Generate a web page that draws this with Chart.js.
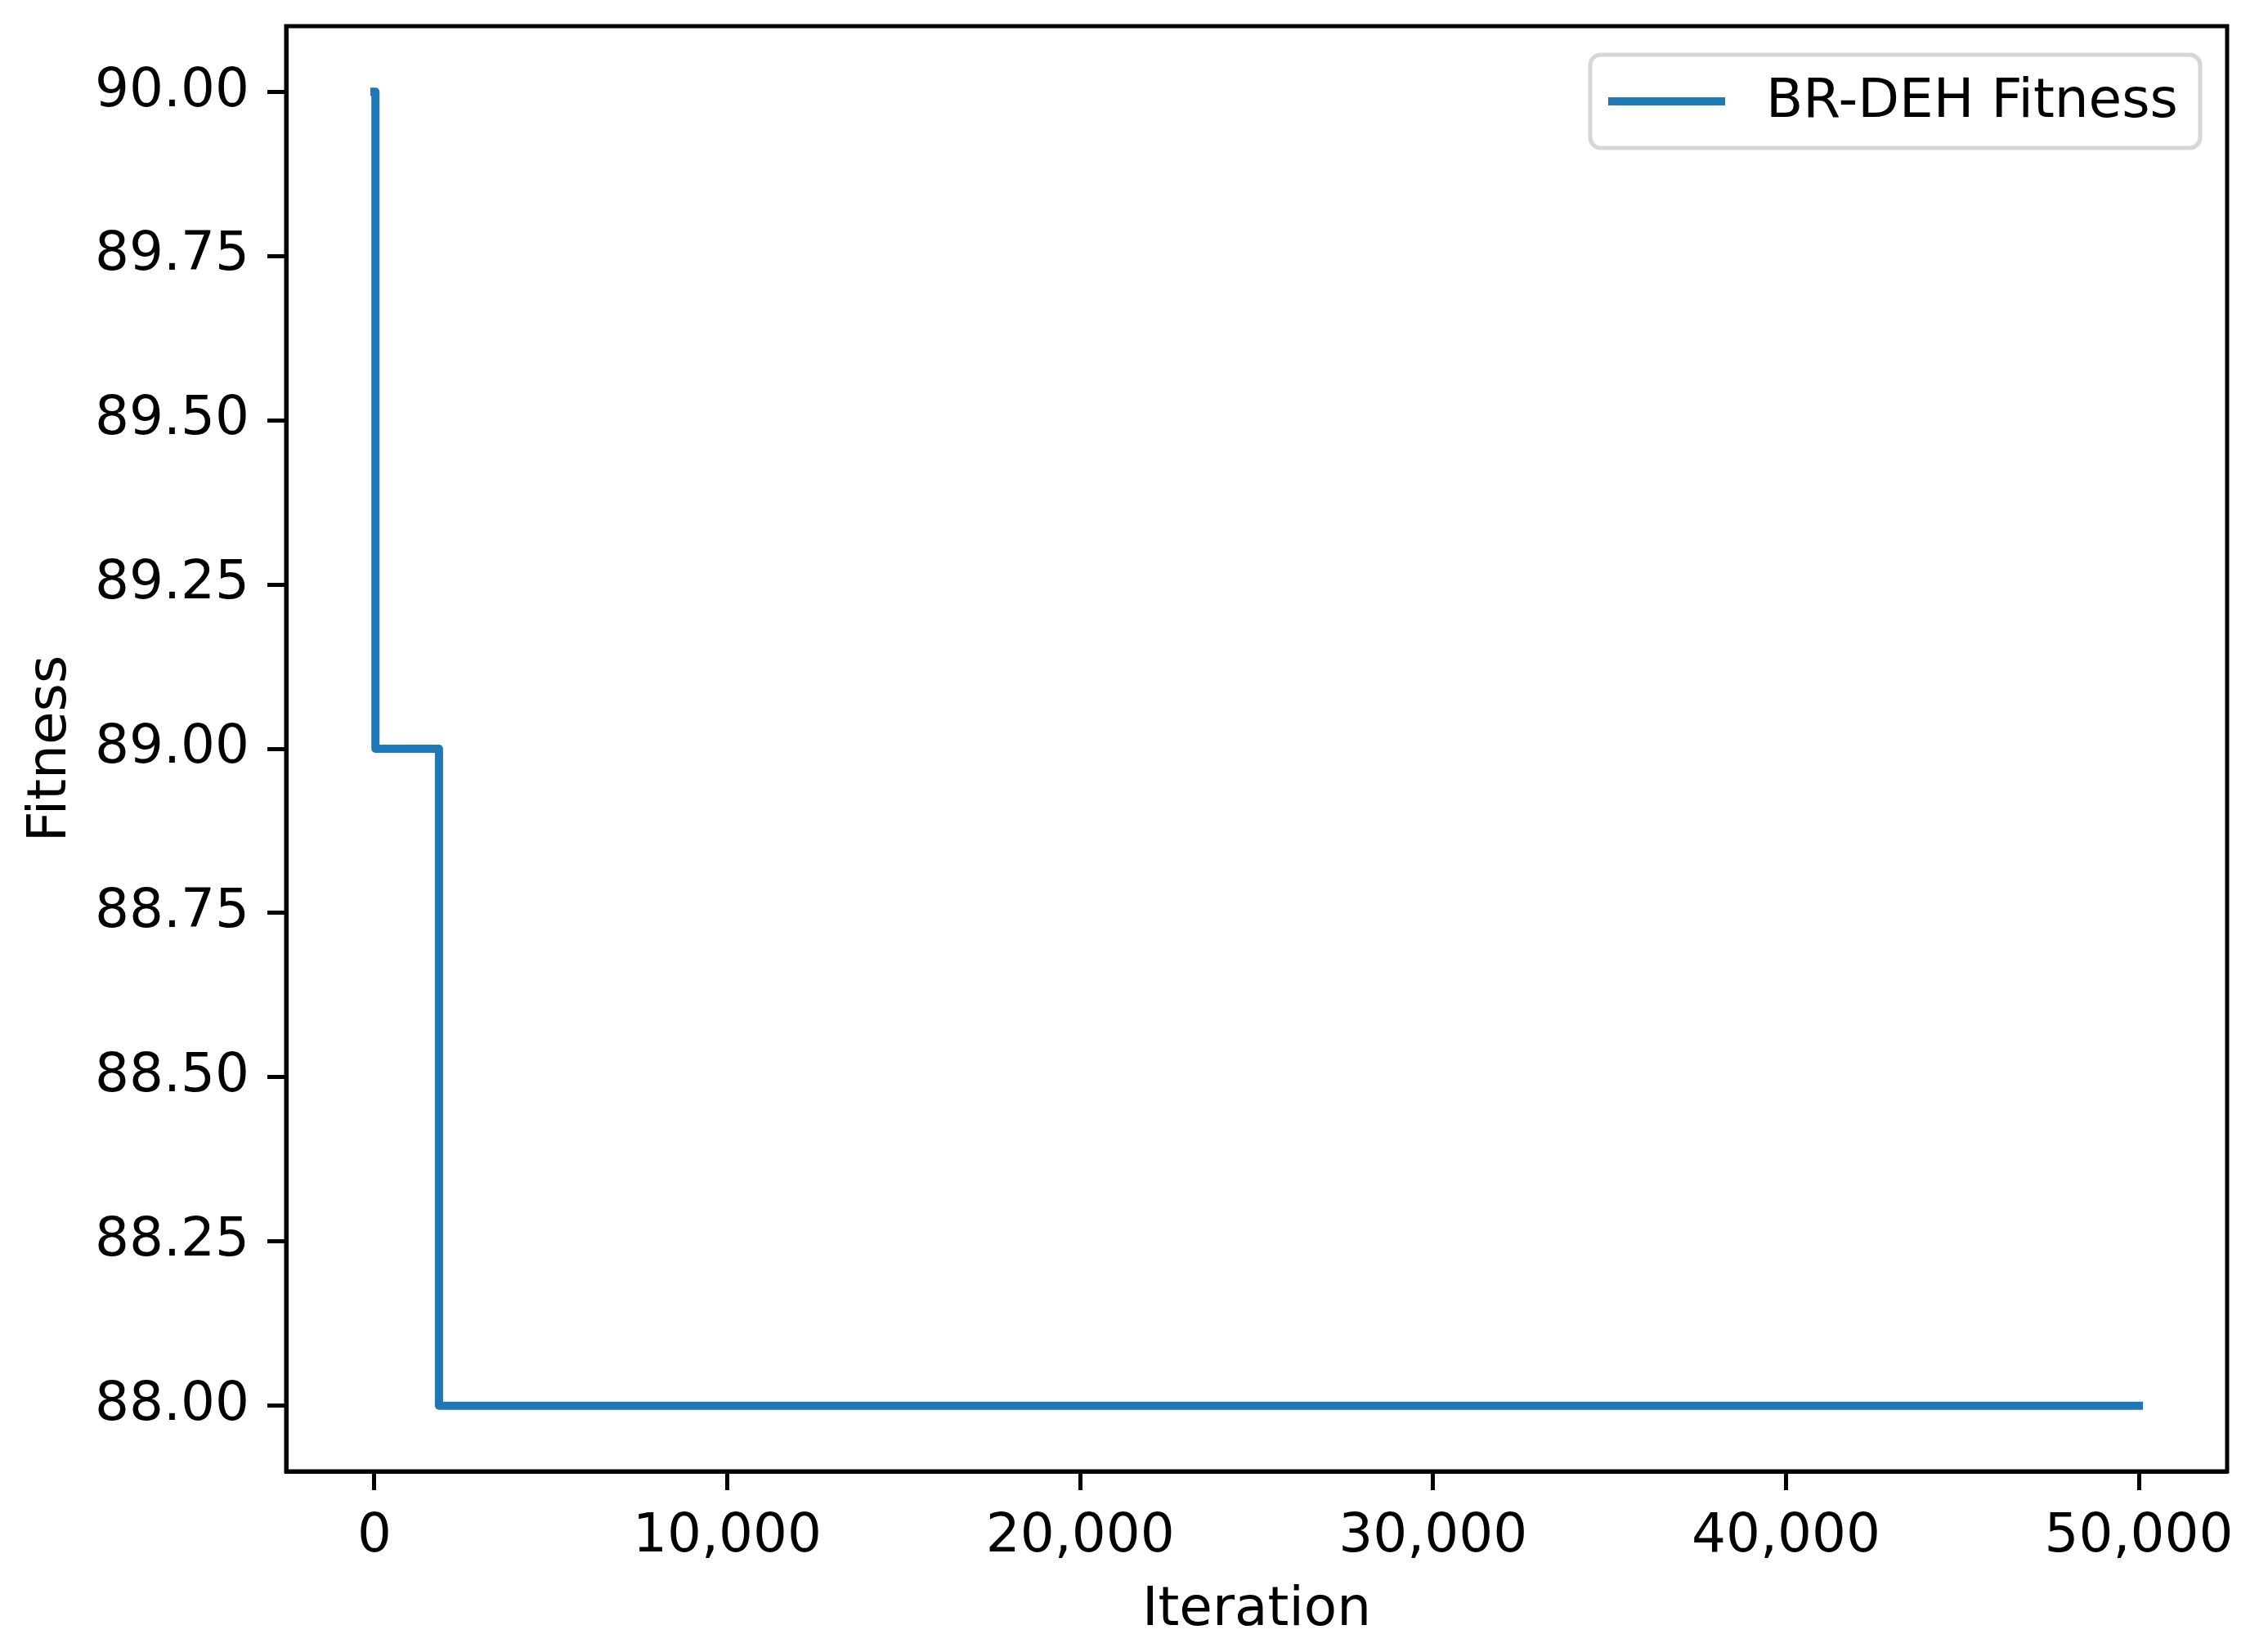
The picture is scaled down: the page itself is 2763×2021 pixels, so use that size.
<!DOCTYPE html>
<html>
<head>
<meta charset="utf-8">
<script src="https://cdn.jsdelivr.net/npm/chart.js@4.4.1/dist/chart.umd.min.js"></script>
<style>
  html, body { margin: 0; padding: 0; background: #ffffff; }
  #wrap { width: 2763px; height: 2021px; }
</style>
</head>
<body>
<div id="wrap"><canvas id="fitnessChart" width="2763" height="2021"></canvas></div>
<script>
// change points of the best fitness curve
const iterations = [0, 30, 1830, 50000];
const fitness = [90, 89, 88, 88];
const xTicks = [0, 10000, 20000, 30000, 40000, 50000];
const yTicks = [88.00, 88.25, 88.50, 88.75, 89.00, 89.25, 89.50, 89.75, 90.00];
const seriesLabel = 'BR-DEH Fitness';

const FONT = 'DejaVu Sans';
const FS = 66;

// box around the plot + matplotlib style legend inside the axes
const framePlugin = {
    id: 'frame',
    afterDraw(chart) {
        const ctx = chart.ctx;
        const a = chart.chartArea;
        ctx.save();
        ctx.strokeStyle = '#000000';
        ctx.lineWidth = 5;
        ctx.strokeRect(a.left, a.top, a.right - a.left, a.bottom - a.top);

        // legend
        const ds = chart.data.datasets[0];
        const bx = 1945, by = 67, bw = 746, bh = 114, r = 13;
        ctx.globalAlpha = 0.8;
        ctx.fillStyle = '#ffffff';
        ctx.strokeStyle = '#cccccc';
        ctx.lineWidth = 5;
        ctx.beginPath();
        ctx.roundRect(bx, by, bw, bh, r);
        ctx.fill();
        ctx.stroke();
        ctx.globalAlpha = 1;
        ctx.strokeStyle = ds.borderColor;
        ctx.lineWidth = ds.borderWidth;
        ctx.lineCap = 'square';
        ctx.beginPath();
        ctx.moveTo(1972, by + bh / 2);
        ctx.lineTo(2105, by + bh / 2);
        ctx.stroke();
        ctx.fillStyle = '#000000';
        ctx.font = FS + 'px "' + FONT + '"';
        ctx.textBaseline = 'middle';
        ctx.textAlign = 'left';
        ctx.fillText(ds.label, 2160, by + bh / 2 + 2);
        ctx.restore();
    }
};

const ctx = document.getElementById('fitnessChart').getContext('2d');

const data = {
    datasets: [{
        label: seriesLabel,
        data: iterations.map((x, i) => ({ x: x, y: fitness[i] })),
        borderColor: '#1f77b4',
        backgroundColor: '#1f77b4',
        borderWidth: 10,
        borderCapStyle: 'square',
        borderJoinStyle: 'round',
        stepped: 'before',
        pointRadius: 0,
        fill: false
    }]
};

const myChart = new Chart(ctx, {
    type: 'line',
    data: data,
    plugins: [framePlugin],
    options: {
        responsive: false,
        animation: false,
        devicePixelRatio: 1,
        layout: {
            padding: { left: 0, top: 32, right: 39, bottom: 0 }
        },
        plugins: {
            legend: { display: false },
            tooltip: { enabled: false },
            title: { display: false }
        },
        scales: {
            x: {
                type: 'linear',
                min: -2500,
                max: 52500,
                afterBuildTicks: (scale) => { scale.ticks = xTicks.map(v => ({ value: v })); },
                afterFit: (scale) => {
                    scale.height = 221;
                    scale.paddingLeft = 0;
                    scale.paddingRight = 0;
                },
                ticks: {
                    color: '#000000',
                    font: { family: FONT, size: FS },
                    padding: 18,
                    maxRotation: 0,
                    autoSkip: false,
                    callback: (v) => v.toLocaleString('en-US')
                },
                grid: {
                    drawOnChartArea: false,
                    drawTicks: true,
                    tickLength: 23,
                    tickWidth: 5,
                    tickColor: '#000000'
                },
                border: { display: true, color: '#000000', width: 5 },
                title: {
                    display: true,
                    text: 'Iteration',
                    color: '#000000',
                    font: { family: FONT, size: FS },
                    padding: { top: 0, bottom: 11 }
                }
            },
            y: {
                type: 'linear',
                min: 87.9,
                max: 90.1,
                afterBuildTicks: (scale) => { scale.ticks = yTicks.map(v => ({ value: v })); },
                afterFit: (scale) => {
                    scale.width = 350;
                    scale.paddingTop = 0;
                    scale.paddingBottom = 0;
                },
                ticks: {
                    color: '#000000',
                    font: { family: FONT, size: FS },
                    padding: 22,
                    autoSkip: false,
                    callback: (v) => v.toFixed(2)
                },
                grid: {
                    drawOnChartArea: false,
                    drawTicks: true,
                    tickLength: 23,
                    tickWidth: 5,
                    tickColor: '#000000'
                },
                border: { display: true, color: '#000000', width: 5 },
                title: {
                    display: true,
                    text: 'Fitness',
                    color: '#000000',
                    font: { family: FONT, size: FS },
                    padding: { top: 23, bottom: 0 }
                }
            }
        }
    }
});
</script>
</body>
</html>
